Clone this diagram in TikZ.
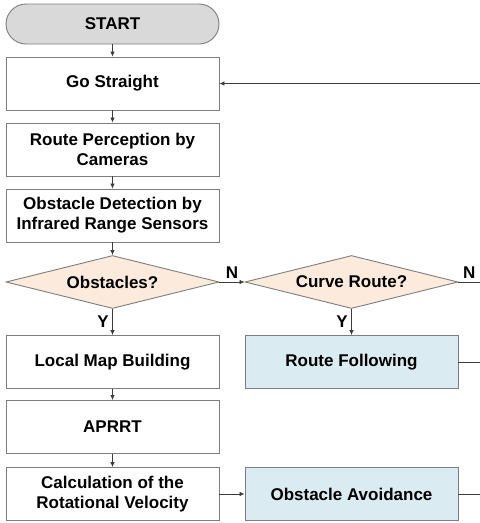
\documentclass[tikz,border=0pt]{standalone}
\usepackage{fontspec}
\setmainfont{Liberation Sans}
\usetikzlibrary{arrows.meta,positioning,shapes.geometric}

\definecolor{startgray}{RGB}{217,217,217}
\definecolor{decpeach}{RGB}{252,235,220}
\definecolor{actblue}{RGB}{218,236,242}
\definecolor{edgegray}{RGB}{125,125,125}
\definecolor{linegray}{RGB}{60,60,60}

\begin{document}
\begin{tikzpicture}[x=1pt,y=-1pt,
    font=\bfseries\fontsize{17}{20}\selectfont,
    box/.style={draw=edgegray, line width=0.9pt, minimum width=213pt,
        minimum height=53pt, align=center, inner sep=2pt},
    actbox/.style={box, fill=actblue},
    startbox/.style={box, fill=startgray, minimum height=40pt, rounded corners=20pt},
    decision/.style={diamond, draw=edgegray, fill=decpeach, line width=0.9pt,
        aspect=4, inner sep=0pt, minimum width=213pt, minimum height=53pt},
    flow/.style={draw=linegray, line width=0.8pt, -{Latex[length=5pt,width=4.5pt]}},
    wire/.style={draw=linegray, line width=0.8pt}]
    \useasboundingbox (0,0) rectangle (480,523);

    % Main column
    \node[startbox] (start) at (112.5,24) {START};
    \node[box] (go) at (112.5,83.5) {Go Straight};
    \node[box] (perc) at (112.5,149.5) {Route Perception by\\Cameras};
    \node[box] (detect) at (112.5,215.5) {Obstacle Detection by\\Infrared Range Sensors};
    \node[decision] (obst) at (112.5,282) {Obstacles?};
    \node[box] (map) at (112.5,362) {Local Map Building};
    \node[box] (aprrt) at (112.5,427) {APRRT};
    \node[box] (calc) at (112.5,494) {Calculation of the\\Rotational Velocity};

    % Right column
    \node[decision] (curve) at (351.5,282) {Curve Route?};
    \node[actbox] (follow) at (351.5,362) {Route Following};
    \node[actbox] (avoid) at (351.5,494) {Obstacle Avoidance};

    % Loose ends at the right border
    \coordinate (backG) at (480,83.5);
    \coordinate (backN) at (480,282);
    \coordinate (backF) at (480,362);
    \coordinate (backA) at (480,494);

    % Connectors
    \draw[flow] (start) -- (go);
    \draw[flow] (go) -- (perc);
    \draw[flow] (perc) -- (detect);
    \draw[flow] (detect) -- (obst);
    \draw[flow] (obst) -- node[left] {Y} (map);
    \draw[flow] (obst) -- node[above] {N} (curve);
    \draw[flow] (curve) -- node[left] {Y} (follow);
    \draw[flow] (map) -- (aprrt);
    \draw[flow] (aprrt) -- (calc);
    \draw[flow] (calc) -- (avoid);
    \draw[wire] (curve.east) -- node[above] {N} (backN);
    \draw[wire] (follow) -- (backF);
    \draw[wire] (avoid) -- (backA);
    \draw[flow] (backG) -- (go);
\end{tikzpicture}
\end{document}
